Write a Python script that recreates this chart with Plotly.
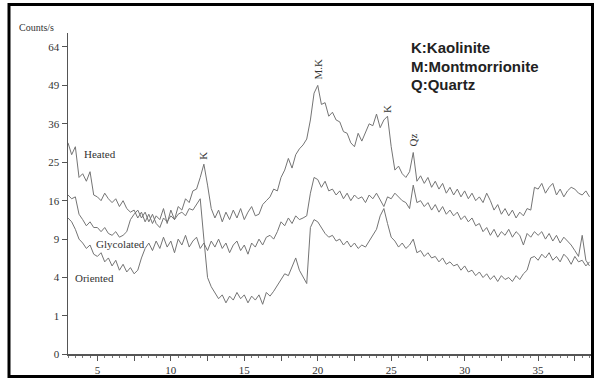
import numpy as np
import plotly.graph_objects as go

# ---- data (Counts/s, 2-theta grid 3.00 .. 38.50 step 0.25) ----
start_2theta = 3.0
step_2theta = 0.25

heated = [
    30.3, 27.0, 29.2, 21.2, 22.1, 20.3, 22.6, 17.2,
    16.8, 16.0, 17.6, 16.4, 15.6, 16.4, 14.8, 16.0,
    14.4, 13.7, 14.1, 12.6, 13.7, 11.9, 13.3, 11.6,
    13.0, 12.3, 14.4, 11.6, 14.1, 12.3, 14.8, 14.1,
    16.4, 15.6, 18.1, 18.5, 21.2, 24.5, 19.4, 14.4,
    12.6, 14.1, 11.9, 13.7, 12.3, 14.1, 12.6, 14.4,
    12.3, 13.7, 14.8, 13.0, 13.3, 15.2, 16.0, 16.8,
    18.5, 18.1, 21.2, 23.0, 26.0, 23.5, 27.0, 28.6,
    29.7, 31.4, 37.2, 46.2, 49.0, 42.3, 42.9, 38.4,
    39.7, 37.2, 36.6, 33.6, 33.1, 30.3, 29.2, 33.1,
    30.8, 33.6, 36.0, 35.4, 39.1, 34.8, 37.2, 38.4,
    29.2, 23.0, 24.0, 22.1, 21.2, 22.6, 27.6, 20.3,
    21.6, 19.8, 21.2, 18.9, 20.3, 18.5, 19.8, 17.6,
    18.9, 17.2, 18.5, 16.8, 18.1, 16.4, 17.6, 16.0,
    16.8, 15.6, 17.6, 16.0, 14.1, 15.2, 13.3, 14.4,
    13.0, 14.1, 12.6, 13.7, 13.0, 14.4, 14.1, 18.9,
    18.5, 19.8, 17.6, 18.9, 19.8, 17.2, 18.5, 16.8,
    18.1, 18.9, 18.5, 17.6, 17.2, 18.1, 16.8,
]

glycolated = [
    17.2, 16.4, 16.8, 13.3, 12.3, 11.2, 11.9, 10.9,
    10.9, 10.2, 10.9, 9.9, 9.6, 10.2, 9.3, 9.6,
    10.2, 12.3, 13.3, 14.1, 12.6, 13.7, 11.9, 13.3,
    11.6, 10.9, 12.6, 11.9, 13.0, 12.3, 13.3, 13.7,
    13.0, 14.4, 14.1, 15.2, 16.4, 9.0, 4.0, 3.1,
    2.6, 2.1, 2.4, 1.8, 2.3, 2.0, 2.6, 2.1,
    2.4, 1.8, 2.3, 2.0, 2.4, 1.7, 2.6, 2.3,
    2.7, 3.2, 3.8, 4.4, 4.2, 5.1, 6.3, 4.8,
    4.0, 3.4, 10.9, 12.3, 11.9, 10.9, 9.9, 9.3,
    9.6, 8.7, 9.0, 8.1, 8.7, 7.8, 8.4, 7.6,
    8.1, 7.8, 8.7, 9.6, 10.6, 13.0, 14.4, 11.6,
    9.3, 8.7, 7.8, 8.4, 7.6, 8.1, 9.0, 7.0,
    7.3, 6.5, 7.0, 6.3, 6.5, 5.8, 6.3, 5.5,
    5.8, 5.3, 5.5, 4.8, 5.3, 4.6, 4.8, 4.2,
    4.6, 4.0, 4.4, 3.8, 4.2, 3.6, 4.2, 3.8,
    4.0, 3.6, 4.2, 3.8, 4.4, 4.8, 6.3, 6.5,
    6.0, 6.8, 6.3, 7.0, 6.0, 6.5, 5.8, 6.8,
    6.3, 5.5, 6.5, 5.8, 6.0, 5.3, 5.8,
]

oriented = [
    12.6, 11.9, 10.6, 9.0, 8.4, 7.6, 8.1, 6.8,
    6.5, 7.0, 5.8, 6.3, 5.3, 6.0, 4.8, 5.5,
    4.6, 5.1, 4.4, 4.8, 6.3, 7.6, 8.4, 7.3,
    8.7, 7.6, 9.3, 7.8, 8.7, 7.0, 9.0, 8.1,
    9.6, 7.8, 8.7, 9.3, 7.6, 8.4, 7.3, 8.7,
    7.8, 9.0, 7.6, 8.4, 7.0, 8.1, 8.7, 7.3,
    8.1, 6.8, 8.4, 7.8, 9.0, 8.1, 9.3, 9.6,
    9.0, 10.2, 11.9, 11.2, 12.6, 11.6, 13.0, 12.3,
    12.6, 13.0, 17.6, 21.2, 20.7, 18.9, 20.3, 18.1,
    18.5, 17.2, 18.1, 16.4, 17.6, 16.0, 17.2, 16.4,
    16.8, 15.6, 17.2, 16.4, 17.6, 16.0, 14.8, 16.8,
    16.4, 17.6, 16.8, 16.0, 15.6, 14.4, 19.4, 15.6,
    16.0, 14.8, 15.6, 14.1, 15.2, 13.7, 14.8, 13.3,
    14.1, 13.0, 13.7, 12.3, 13.0, 11.9, 12.6, 11.2,
    11.6, 10.2, 10.9, 9.6, 10.6, 9.3, 10.2, 9.6,
    10.6, 9.3, 10.2, 9.6, 8.1, 9.9, 9.3, 10.2,
    9.6, 10.2, 9.0, 9.9, 8.7, 9.6, 8.4, 9.3,
    8.7, 8.1, 7.3, 6.5, 9.6, 6.0, 5.3,
]

y_tick_counts = [0, 1, 4, 9, 16, 25, 36, 49, 64]
x_tick_vals = [5, 7.5, 10, 12.5, 15, 17.5, 20, 22.5, 25, 27.5, 30, 32.5, 35, 37.5]
x_tick_text = ["5", "", "10", "", "15", "", "20", "", "25", "", "30", "", "35", ""]

peak_labels = [("K", 12.2, 5.17), ("M.K", 20.0, 7.43), ("K", 24.7, 6.38), ("Qz", 26.45, 5.58)]
curve_labels = [("Heated", 5.2, 5.22), ("Glycolated", 6.6, 2.87), ("Oriented", 4.8, 2.0)]
key_lines = ["K:Kaolinite", "M:Montmorrionite", "Q:Quartz"]
key_y = [7.99, 7.5, 7.02]

W, H = 596, 387


def grid(n):
    return start_2theta + step_2theta * np.arange(n)


line_color = "#747474"
fig = go.Figure()
for name, vals in [("Heated", heated), ("Glycolated", glycolated), ("Oriented", oriented)]:
    fig.add_trace(go.Scatter(
        x=grid(len(vals)), y=np.sqrt(np.array(vals)), mode="lines", name=name,
        line=dict(color=line_color, width=1), showlegend=False,
    ))
# empty helper trace on a full-figure pixel frame (used for the outer border)
fig.add_trace(go.Scatter(x=[None], y=[None], xaxis="x2", yaxis="y2",
                         showlegend=False, hoverinfo="skip"))

serif = "Liberation Serif, Times New Roman, serif"
annotations = []
for txt, x, y in peak_labels:
    annotations.append(dict(x=x, y=y, xref="x", yref="y", text=txt, showarrow=False,
                            textangle=-90, font=dict(family=serif, size=11, color="#333")))
for txt, x, y in curve_labels:
    annotations.append(dict(x=x, y=y, xref="x", yref="y", text=txt, showarrow=False,
                            font=dict(family=serif, size=11, color="#333")))
for txt, y in zip(key_lines, key_y):
    annotations.append(dict(x=26.2, y=y, xref="x", yref="y", text="<b>" + txt + "</b>",
                            showarrow=False, xanchor="left",
                            font=dict(family="Liberation Sans, Arial, sans-serif", size=15, color="#222")))
annotations.append(dict(x=17 / W, y=1 - 20 / H, xref="paper", yref="paper", text="Counts/s",
                        showarrow=False, xanchor="left",
                        font=dict(family=serif, size=10, color="#333")))

fig.update_layout(
    width=W, height=H, autosize=False,
    margin=dict(l=0, r=0, t=0, b=0, pad=0),
    paper_bgcolor="white", plot_bgcolor="rgba(0,0,0,0)",
    annotations=annotations,
    shapes=[dict(type="rect", xref="x2", yref="y2",
                 x0=9, x1=592.5, y0=4.5, y1=382.5,
                 line=dict(color="black", width=3), layer="above")],
    xaxis=dict(domain=[68 / W, 591 / W], range=[3, 38.6], showgrid=False, zeroline=False,
               anchor="y",
               showline=True, linecolor="#555", linewidth=1.5,
               tickmode="array", tickvals=x_tick_vals, ticktext=x_tick_text,
               ticks="outside", ticklen=5, tickcolor="#555", tickwidth=1,
               minor=dict(tickmode="linear", tick0=0, dtick=0.5, ticks="outside",
                          ticklen=2, tickcolor="#777"),
               tickfont=dict(family=serif, size=11, color="#333")),
    yaxis=dict(domain=[(H - 360) / H, (H - 34) / H], range=[0, 8.35], showgrid=False,
               zeroline=False, anchor="x",
               showline=True, linecolor="#555", linewidth=1.5,
               tickmode="array", tickvals=list(np.sqrt(y_tick_counts)),
               ticktext=[str(v) for v in y_tick_counts],
               ticks="outside", ticklen=5, tickcolor="#555", tickwidth=1,
               tickfont=dict(family=serif, size=11, color="#333")),
    xaxis2=dict(domain=[0, 1], range=[0, W], anchor="y2", visible=False, fixedrange=True),
    yaxis2=dict(domain=[0, 1], range=[H, 0], anchor="x2", visible=False, fixedrange=True),
)

fig.write_html("out.html", config={"displayModeBar": False, "staticPlot": True},
               post_script="document.body.style.margin='0';")
